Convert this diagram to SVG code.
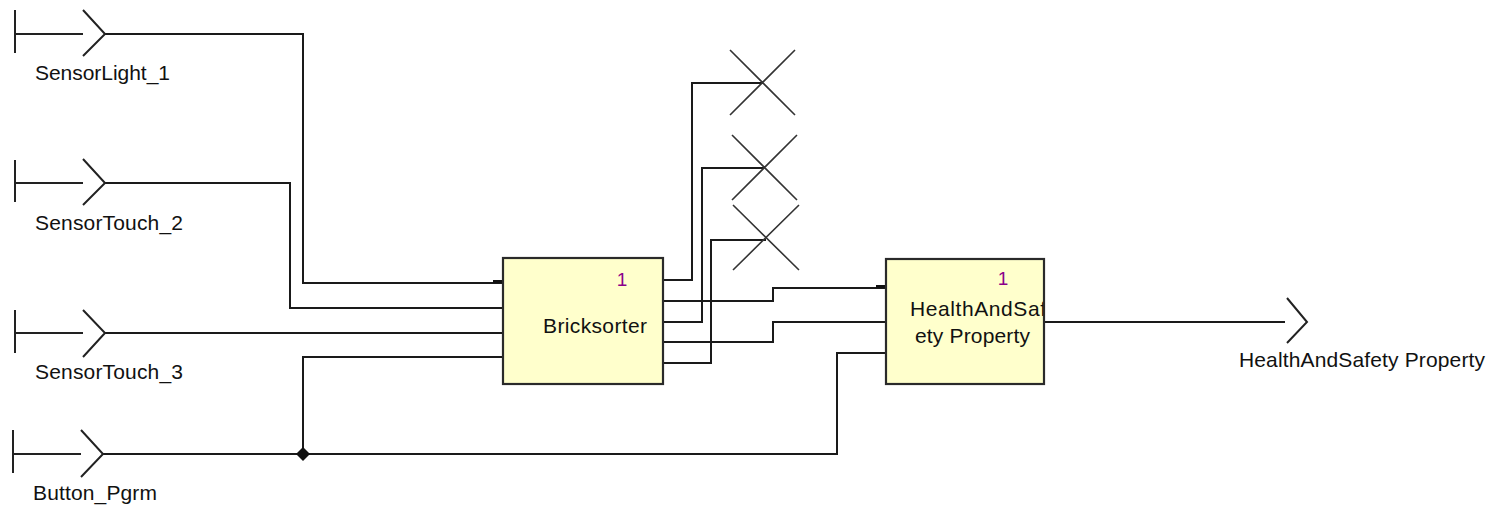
<svg xmlns="http://www.w3.org/2000/svg" width="1493" height="506" viewBox="0 0 1493 506">
<defs>
<style>
.w{fill:none;stroke:#1a1a1a;stroke-width:2;stroke-linejoin:miter}
.p{fill:none;stroke:#222;stroke-width:2}
.x{fill:none;stroke:#333;stroke-width:1.6}
.box{fill:#FFFFCC;stroke:#2a2a2a;stroke-width:2.2}
.t{font-family:"Liberation Sans",Arial,sans-serif;font-size:21px;fill:#111}
.n{font-family:"Liberation Sans",Arial,sans-serif;font-size:19px;fill:#8B008B}
</style>
<clipPath id="hasClip"><rect x="887" y="260" width="156" height="123"/></clipPath>
</defs>
<rect width="1493" height="506" fill="#ffffff"/>

<g id="connectors">
<path class="w" d="M105 34 H303 V283 H503"/>
<path class="w" d="M105 183 H290 V308 H503"/>
<path class="w" d="M105 333 H503"/>
<path class="w" d="M103 454 H837 V353 H886"/>
<path class="w" d="M303 454 V357 H503"/>
<path class="w" d="M663 280 H692 V83 H763"/>
<path class="w" d="M663 301 H773 V288 H886"/>
<path class="w" d="M663 322 H702 V168 H764"/>
<path class="w" d="M663 342 H773 V322 H886"/>
<path class="w" d="M663 363 H711 V240 H766"/>
<path class="w" d="M1044 322 H1285"/>
<rect x="493" y="280" width="10" height="3" fill="#111"/>
<rect x="876" y="285" width="10" height="3" fill="#111"/>
<path d="M303 447 L310 454 L303 461 L296 454 Z" fill="#111"/>
</g>

<g id="port-SensorLight_1">
<path class="p" d="M15 10 V53 M15 34 H83 M83 10 L105 34 L83 56"/>
<text class="t" x="35" y="80" textLength="135">SensorLight_1</text>
</g>
<g id="port-SensorTouch_2">
<path class="p" d="M15 160 V202 M15 183 H83 M83 159 L105 183 L83 205"/>
<text class="t" x="35" y="230" textLength="148">SensorTouch_2</text>
</g>
<g id="port-SensorTouch_3">
<path class="p" d="M15 310 V353 M15 333 H83 M83 310 L105 333 L83 357"/>
<text class="t" x="35" y="379" textLength="148">SensorTouch_3</text>
</g>
<g id="port-Button_Pgrm">
<path class="p" d="M13 430 V473 M13 454 H81 M81 430 L103 454 L81 477"/>
<text class="t" x="33" y="500" textLength="124">Button_Pgrm</text>
</g>

<g id="node-Bricksorter">
<rect class="box" x="503" y="258" width="160" height="126"/>
<text class="n" x="622" y="286" text-anchor="middle">1</text>
<text class="t" x="543" y="333" textLength="104">Bricksorter</text>
</g>

<g id="node-HealthAndSafetyProperty">
<rect class="box" x="886" y="259" width="158" height="125"/>
<text class="n" x="1003" y="285" text-anchor="middle">1</text>
<g clip-path="url(#hasClip)">
<text class="t" x="910" y="316" textLength="136">HealthAndSaf</text>
</g>
<text class="t" x="915" y="343" textLength="115">ety Property</text>
</g>

<g id="term-1">
<path class="x" d="M730 50 L795 115 M795 50 L730 115"/>
</g>
<g id="term-2">
<path class="x" d="M732 135 L797 200 M797 135 L732 200"/>
</g>
<g id="term-3">
<path class="x" d="M733 205 L799 270 M799 205 L733 270"/>
</g>

<g id="port-HealthAndSafetyProperty">
<path class="p" d="M1287 298 L1307 322 L1287 343"/>
<text class="t" x="1239" y="367" textLength="246">HealthAndSafety Property</text>
</g>
</svg>
